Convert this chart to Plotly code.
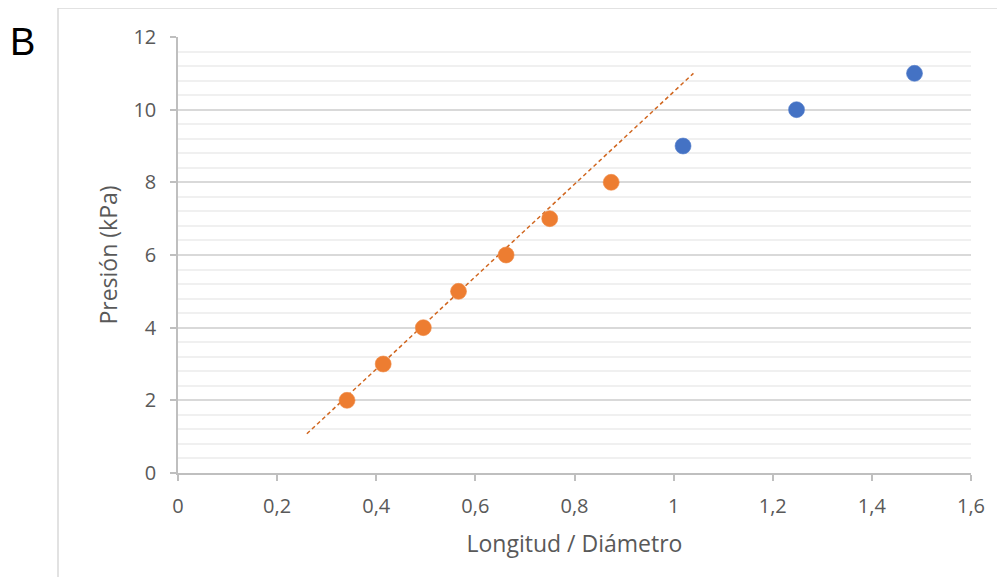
import plotly.graph_objects as go

# Data
orange_x = [0.341, 0.414, 0.495, 0.566, 0.662, 0.750, 0.874]
orange_y = [2, 3, 4, 5, 6, 7, 8]
blue_x = [1.019, 1.248, 1.486]
blue_y = [9, 10, 11]
trend_x = [0.260, 1.040]
trend_y = [1.08, 11.0]

x_ticks = [0, 0.2, 0.4, 0.6, 0.8, 1.0, 1.2, 1.4, 1.6]
x_ticklabels = ["0", "0,2", "0,4", "0,6", "0,8", "1", "1,2", "1,4", "1,6"]
y_ticks = [0, 2, 4, 6, 8, 10, 12]

FONT = "Open Sans"
TXT = "#595959"

fig = go.Figure()
fig.add_trace(go.Scatter(
    x=trend_x, y=trend_y, mode="lines",
    line=dict(color="#D0661F", width=1.5, dash="4px,3px"),
    showlegend=False, hoverinfo="skip"))
fig.add_trace(go.Scatter(
    x=orange_x, y=orange_y, mode="markers",
    marker=dict(size=16, color="#ED7D31", line=dict(color="#F08A45", width=0.6)),
    showlegend=False))
fig.add_trace(go.Scatter(
    x=blue_x, y=blue_y, mode="markers",
    marker=dict(size=16, color="#4472C4", line=dict(color="#5580CC", width=0.6)),
    showlegend=False))

fig.update_layout(
    width=989, height=569,
    margin=dict(l=170, r=26, t=29, b=104),
    paper_bgcolor="white", plot_bgcolor="white",
    separators=", ",
    font=dict(family=FONT, color=TXT, size=20),
    xaxis=dict(
        range=[0, 1.6], tickvals=x_ticks, ticktext=x_ticklabels,
        showgrid=False, zeroline=False,
        showline=True, linecolor="#BFBFBF", linewidth=1.5,
        ticks="outside", ticklen=6, tickcolor="#BFBFBF", tickwidth=1.5,
        ticklabelstandoff=8,
        tickfont=dict(size=20, color=TXT, family=FONT),
        title=dict(text="Longitud / Diámetro", font=dict(size=23, color=TXT, family=FONT), standoff=18),
    ),
    yaxis=dict(
        range=[0, 12], tickvals=y_ticks,
        showgrid=True, gridcolor="#D9D9D9", gridwidth=1.5,
        zeroline=False,
        showline=True, linecolor="#BFBFBF", linewidth=1.5,
        ticks="outside", ticklen=6, tickcolor="#BFBFBF", tickwidth=1.5,
        ticklabelstandoff=10,
        tickfont=dict(size=20, color=TXT, family=FONT),
        minor=dict(dtick=0.4, showgrid=True, gridcolor="#F0F0F0", gridwidth=1.5, ticks=""),
        title=dict(text="Presión (kPa)", font=dict(size=23, color=TXT, family=FONT), standoff=9),
    ),
    shapes=[
        dict(type="line", xref="paper", yref="paper",
             x0=(58 - 178) / 793, x1=(58 - 178) / 793, y0=(473 - 8) / 436, y1=(473 - 600) / 436,
             line=dict(color="#D9D9D9", width=1.5)),
        dict(type="line", xref="paper", yref="paper",
             x0=(58 - 178) / 793, x1=(1020 - 178) / 793, y0=(473 - 8) / 436, y1=(473 - 8) / 436,
             line=dict(color="#D9D9D9", width=1.5)),
    ],
    annotations=[
        dict(text="B", xref="paper", yref="paper", x=(8 - 178) / 793, y=(473 - 42) / 436,
             xanchor="left", yanchor="middle", showarrow=False,
             font=dict(family="Liberation Sans", size=38, color="black")),
    ],
)

fig.write_html("out.html")
